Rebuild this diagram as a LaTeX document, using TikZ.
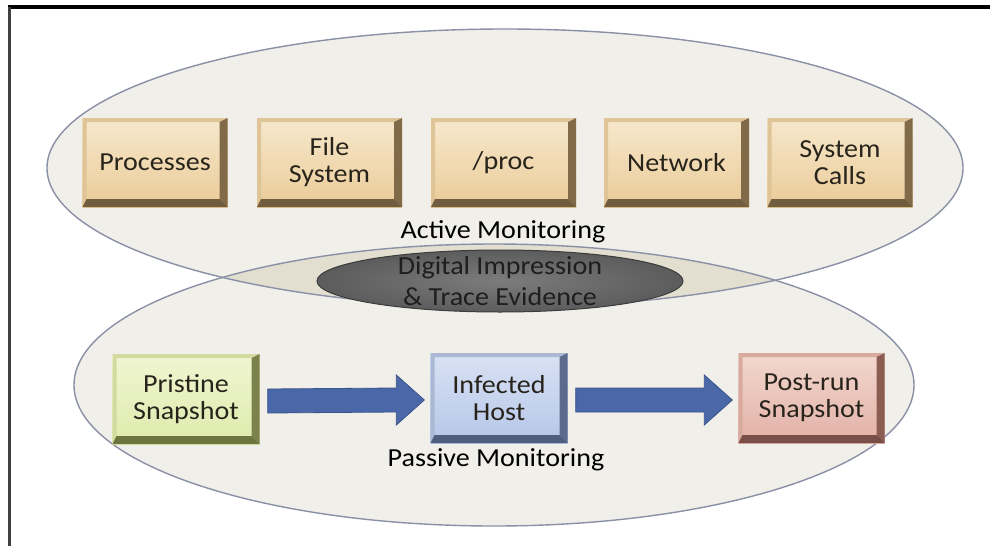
\documentclass[tikz,border=0pt]{standalone}
\usepackage{fontspec}
\setmainfont{Carlito}[FakeStretch=1.08]
\usetikzlibrary{shapes.geometric}
\definecolor{ellfill}{RGB}{241,239,233}
\definecolor{lensfill}{RGB}{226,223,209}
\definecolor{ellline}{RGB}{138,144,166}
\definecolor{tanA}{RGB}{247,232,204}
\definecolor{tanB}{RGB}{234,203,152}
\definecolor{tanD}{RGB}{128,106,72}
\definecolor{tanE}{RGB}{112,92,62}
\definecolor{tanL}{RGB}{222,196,150}
\definecolor{grnA}{RGB}{240,246,210}
\definecolor{grnB}{RGB}{222,234,172}
\definecolor{grnD}{RGB}{124,130,76}
\definecolor{grnE}{RGB}{108,116,64}
\definecolor{grnL}{RGB}{210,218,160}
\definecolor{bluA}{RGB}{216,226,244}
\definecolor{bluB}{RGB}{182,198,232}
\definecolor{bluD}{RGB}{92,106,140}
\definecolor{bluE}{RGB}{80,94,126}
\definecolor{bluL}{RGB}{170,184,212}
\definecolor{redA}{RGB}{242,216,206}
\definecolor{redB}{RGB}{226,176,166}
\definecolor{redD}{RGB}{138,92,82}
\definecolor{redE}{RGB}{120,78,70}
\definecolor{redL}{RGB}{216,170,158}
\definecolor{arrowblue}{RGB}{74,104,168}
\definecolor{arrowedge}{RGB}{58,84,140}
\definecolor{darkell}{RGB}{108,108,108}
\definecolor{txt}{RGB}{40,36,28}
\tikzset{
  bevel/.style n args={5}{
    top color=#1, bottom color=#2, draw=none, inner sep=0pt,
    align=center, text=txt,
    font=\fontsize{26}{27}\selectfont,
    path picture={
      \fill[#5] (path picture bounding box.north west) -- (path picture bounding box.north east)
        -- ([xshift=-8pt,yshift=-4pt]path picture bounding box.north east)
        -- ([xshift=4pt,yshift=-4pt]path picture bounding box.north west) -- cycle;
      \fill[#5] (path picture bounding box.north west) -- (path picture bounding box.south west)
        -- ([xshift=4pt,yshift=8pt]path picture bounding box.south west)
        -- ([xshift=4pt,yshift=-4pt]path picture bounding box.north west) -- cycle;
      \fill[#3] (path picture bounding box.north east) -- (path picture bounding box.south east)
        -- ([xshift=-8pt,yshift=8pt]path picture bounding box.south east)
        -- ([xshift=-8pt,yshift=-4pt]path picture bounding box.north east) -- cycle;
      \fill[#4] (path picture bounding box.south west) -- (path picture bounding box.south east)
        -- ([xshift=-8pt,yshift=8pt]path picture bounding box.south east)
        -- ([xshift=4pt,yshift=8pt]path picture bounding box.south west) -- cycle;
    }
  },
  tanbox/.style={bevel={tanA}{tanB}{tanD}{tanE}{tanL}, minimum width=145, minimum height=89},
  grnbox/.style={bevel={grnA}{grnB}{grnD}{grnE}{grnL}, minimum width=147, minimum height=90},
  blubox/.style={bevel={bluA}{bluB}{bluD}{bluE}{bluL}, minimum width=137, minimum height=90},
  redbox/.style={bevel={redA}{redB}{redD}{redE}{redL}, minimum width=146, minimum height=90},
  bigell/.style={draw=ellline, line width=1.4pt},
  label text/.style={font=\fontsize{26}{27}\selectfont, text=black, inner sep=0pt},
  flowarrow/.style={fill=arrowblue, draw=arrowedge, line width=0.8pt, line join=miter},
}
\begin{document}
\begin{tikzpicture}[x=1pt,y=-1pt]
\useasboundingbox (0,0) rectangle (990,546);
\fill[white] (0,0) rectangle (990,546);
% frame
\draw[line width=3.5pt, black] (7.5,7) -- (990,7);
\draw[line width=2.5pt, black!75] (9.5,7) -- (9.5,546);
% monitoring ellipses
\fill[ellfill] (505,168) ellipse [x radius=458, y radius=139];
\fill[ellfill] (494,385) ellipse [x radius=420, y radius=141];
\begin{scope}
  \clip (505,168) ellipse [x radius=458, y radius=139];
  \fill[lensfill] (494,385) ellipse [x radius=420, y radius=141];
\end{scope}
\draw[bigell] (505,168) ellipse [x radius=458, y radius=139];
\draw[bigell] (494,385) ellipse [x radius=420, y radius=141];
% active monitoring boxes
\node[tanbox] (proc) at (155,162.5) {Processes};
\node[tanbox] (fs) at (329.5,162.5) {File\\System};
\node[tanbox] (procfs) at (503.5,162.5) {/proc};
\node[tanbox] (net) at (676.5,162.5) {Network};
\node[tanbox] (sys) at (840,162.5) {System\\Calls};
\node[label text] (active) at (503,232) {Active Monitoring};
% digital impression
\node[ellipse, minimum width=366, minimum height=62, inner sep=0pt,
      draw={rgb,255:red,60;green,60;blue,60}, line width=1pt,
      inner color={rgb,255:red,124;green,124;blue,124}, outer color={rgb,255:red,92;green,92;blue,92}] (dig) at (500,281) {};
\node[font=\fontsize{26}{31}\selectfont, text={rgb,255:red,30;green,30;blue,30}, align=center, inner sep=0pt] (digtxt) at (dig.center) {Digital Impression\\\& Trace Evidence};
% passive monitoring boxes
\node[grnbox] (pris) at (186,399) {Pristine\\Snapshot};
\node[blubox] (inf) at (499,398) {Infected\\Host};
\node[redbox] (post) at (811.5,398) {Post-run\\Snapshot};
\node[label text] (passive) at (496,460) {Passive Monitoring};
% arrows
\draw[flowarrow] ([xshift=8pt,yshift=10pt]pris.east) -- ([xshift=-34pt,yshift=10pt]inf.west)
  -- ([xshift=-34pt,yshift=23pt]inf.west) -- ([xshift=-6pt,yshift=-2pt]inf.west)
  -- ([xshift=-34pt,yshift=-27pt]inf.west) -- ([xshift=-34pt,yshift=-14pt]inf.west)
  -- ([xshift=8pt,yshift=-14pt]pris.east) -- cycle;
\draw[flowarrow] ([xshift=8pt,yshift=10pt]inf.east) -- ([xshift=-34pt,yshift=10pt]post.west)
  -- ([xshift=-34pt,yshift=23pt]post.west) -- ([xshift=-6pt,yshift=-2pt]post.west)
  -- ([xshift=-34pt,yshift=-27pt]post.west) -- ([xshift=-34pt,yshift=-14pt]post.west)
  -- ([xshift=8pt,yshift=-14pt]inf.east) -- cycle;
\end{tikzpicture}
\end{document}
